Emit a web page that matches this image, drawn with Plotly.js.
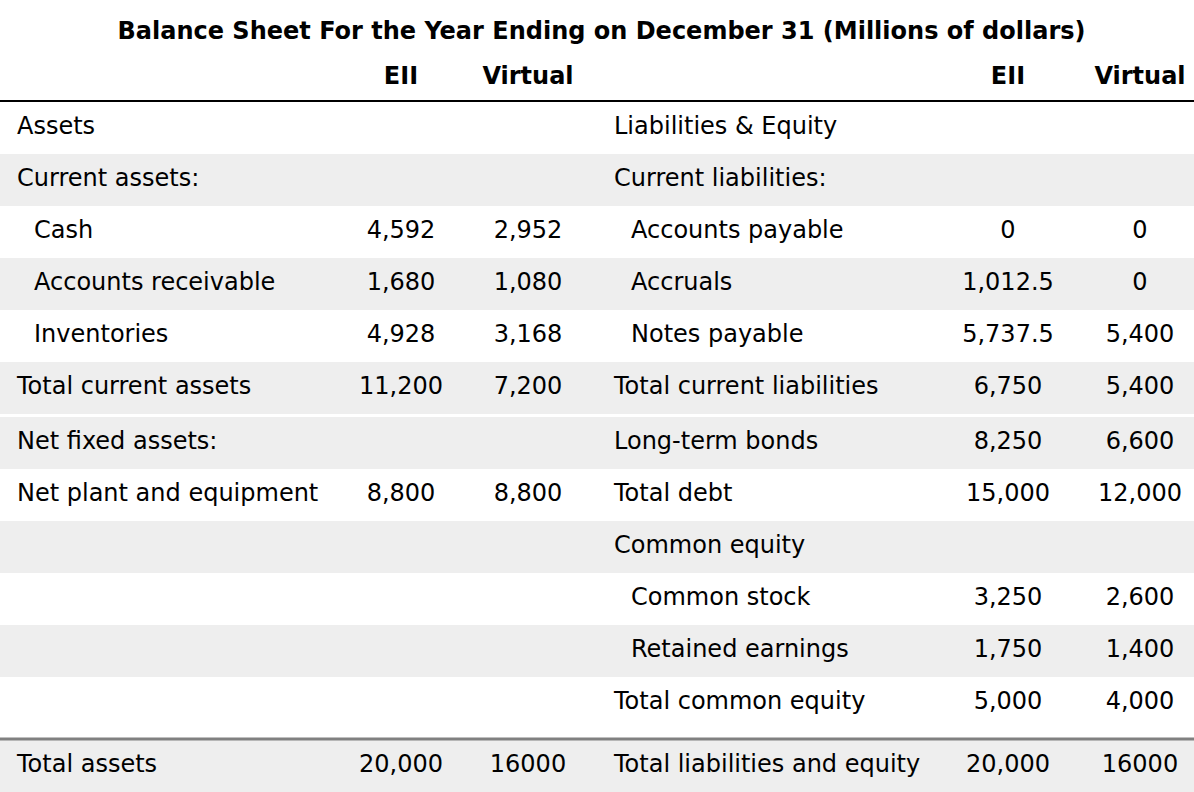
<!DOCTYPE html>
<html>
<head>
<meta charset="utf-8">
<script src="https://cdn.plot.ly/plotly-3.0.1.min.js"></script>
<style>html,body{margin:0;padding:0;background:#fff;}#chart{width:1194px;height:792px;}</style>
</head>
<body>
<div id="chart"></div>
<script>
// ---- data ----
const titleText = "Balance Sheet For the Year Ending on December 31 (Millions of dollars)";
const columnHeaders = ["EII", "Virtual", "EII", "Virtual"];

// section 1: assets / current items
const leftLabels1 = ["Assets", "Current assets:", "Cash", "Accounts receivable", "Inventories", "Total current assets"];
const leftEII1 = ["", "", "4,592", "1,680", "4,928", "11,200"];
const leftVirtual1 = ["", "", "2,952", "1,080", "3,168", "7,200"];
const rightLabels1 = ["Liabilities & Equity", "Current liabilities:", "Accounts payable", "Accruals", "Notes payable", "Total current liabilities"];
const rightEII1 = ["", "", "0", "1,012.5", "5,737.5", "6,750"];
const rightVirtual1 = ["", "", "0", "0", "5,400", "5,400"];

// section 2: fixed assets / debt / equity
const leftLabels2 = ["Net fixed assets:", "Net plant and equipment", "", "", "", ""];
const leftEII2 = ["", "8,800", "", "", "", ""];
const leftVirtual2 = ["", "8,800", "", "", "", ""];
const rightLabels2 = ["Long-term bonds", "Total debt", "Common equity", "Common stock", "Retained earnings", "Total common equity"];
const rightEII2 = ["8,250", "15,000", "", "3,250", "1,750", "5,000"];
const rightVirtual2 = ["6,600", "12,000", "", "2,600", "1,400", "4,000"];

// section 3: totals
const leftLabels3 = ["Total assets"];
const leftEII3 = ["20,000"];
const leftVirtual3 = ["16000"];
const rightLabels3 = ["Total liabilities and equity"];
const rightEII3 = ["20,000"];
const rightVirtual3 = ["16000"];

// ---- styling (indent levels, shading, geometry) ----
const leftIndent = [0, 0, 1, 1, 1, 0, 0, 0, 0, 0, 0, 0, 0];
const rightIndent = [0, 0, 1, 1, 1, 0, 0, 0, 0, 1, 1, 0, 0];
const shade = [0, 1, 0, 1, 0, 1, 1, 0, 1, 0, 1, 0, 1];

const W = 1194, H = 792;
const GREY = "#eeeeee";
const FONT = "Verdana, 'DejaVu Sans', sans-serif";
const FS = 24;
const ROWH = 52;
const sectionTops = [102, 417, 740];
const sectionRows = [leftLabels1.length, leftLabels2.length, leftLabels3.length];
const X_LEFT_LABEL = 17, X_RIGHT_LABEL = 614, INDENT = 17;
const X_COLS = [401, 528, 1008, 1140];
const Y_HEADER = 77.5, Y_TITLE = 31;

// assemble rows
const leftLabels = [...leftLabels1, ...leftLabels2, ...leftLabels3];
const leftEII = [...leftEII1, ...leftEII2, ...leftEII3];
const leftVirtual = [...leftVirtual1, ...leftVirtual2, ...leftVirtual3];
const rightLabels = [...rightLabels1, ...rightLabels2, ...rightLabels3];
const rightEII = [...rightEII1, ...rightEII2, ...rightEII3];
const rightVirtual = [...rightVirtual1, ...rightVirtual2, ...rightVirtual3];

const rowY = [];
sectionTops.forEach((top, s) => {
  for (let i = 0; i < sectionRows[s]; i++) rowY.push(top + ROWH * i + ROWH / 2);
});

const font = {family: FONT, size: FS, color: "#000"};
const data = [];

// grey row bands
const greyY = rowY.filter((y, i) => shade[i]);
data.push({
  type: "bar", orientation: "h",
  y: greyY, x: greyY.map(() => W), base: 0, width: ROWH,
  marker: {color: GREY, line: {width: 0}},
  hoverinfo: "skip", showlegend: false
});

function textTrace(xs, ys, texts, pos, f) {
  return {
    type: "scatter", mode: "text", x: xs, y: ys, text: texts,
    textposition: pos, textfont: f || font, hoverinfo: "skip", showlegend: false, cliponaxis: false
  };
}

// labels
data.push(textTrace(leftLabels.map((t, i) => X_LEFT_LABEL + INDENT * leftIndent[i]), rowY, leftLabels, "middle right"));
data.push(textTrace(rightLabels.map((t, i) => X_RIGHT_LABEL + INDENT * rightIndent[i]), rowY, rightLabels, "middle right"));
// values
[leftEII, leftVirtual, rightEII, rightVirtual].forEach((col, c) => {
  data.push(textTrace(col.map(() => X_COLS[c]), rowY, col, "middle center"));
});
// column headers
data.push(textTrace(X_COLS, X_COLS.map(() => Y_HEADER), columnHeaders.map(h => "<b>" + h + "</b>"), "middle center"));

const layout = {
  width: W, height: H,
  margin: {l: 0, r: 0, t: 0, b: 0, pad: 0},
  paper_bgcolor: "#ffffff", plot_bgcolor: "#ffffff",
  xaxis: {range: [0, W], visible: false, fixedrange: true},
  yaxis: {range: [H, 0], visible: false, fixedrange: true},
  bargap: 0,
  title: {
    text: "<b>" + titleText + "</b>",
    x: 601.5 / W, xanchor: "center", xref: "paper",
    y: 1 - Y_TITLE / H, yanchor: "middle", yref: "paper",
    font: font
  },
  shapes: [
    {type: "line", xref: "paper", yref: "y", x0: 0, x1: 1, y0: 101, y1: 101, line: {color: "#000", width: 2}},
    {type: "line", xref: "paper", yref: "y", x0: 0, x1: 1, y0: 739, y1: 739, line: {color: "#808080", width: 3}}
  ]
};

Plotly.newPlot("chart", data, layout, {displayModeBar: false, staticPlot: true});
</script>
</body>
</html>
